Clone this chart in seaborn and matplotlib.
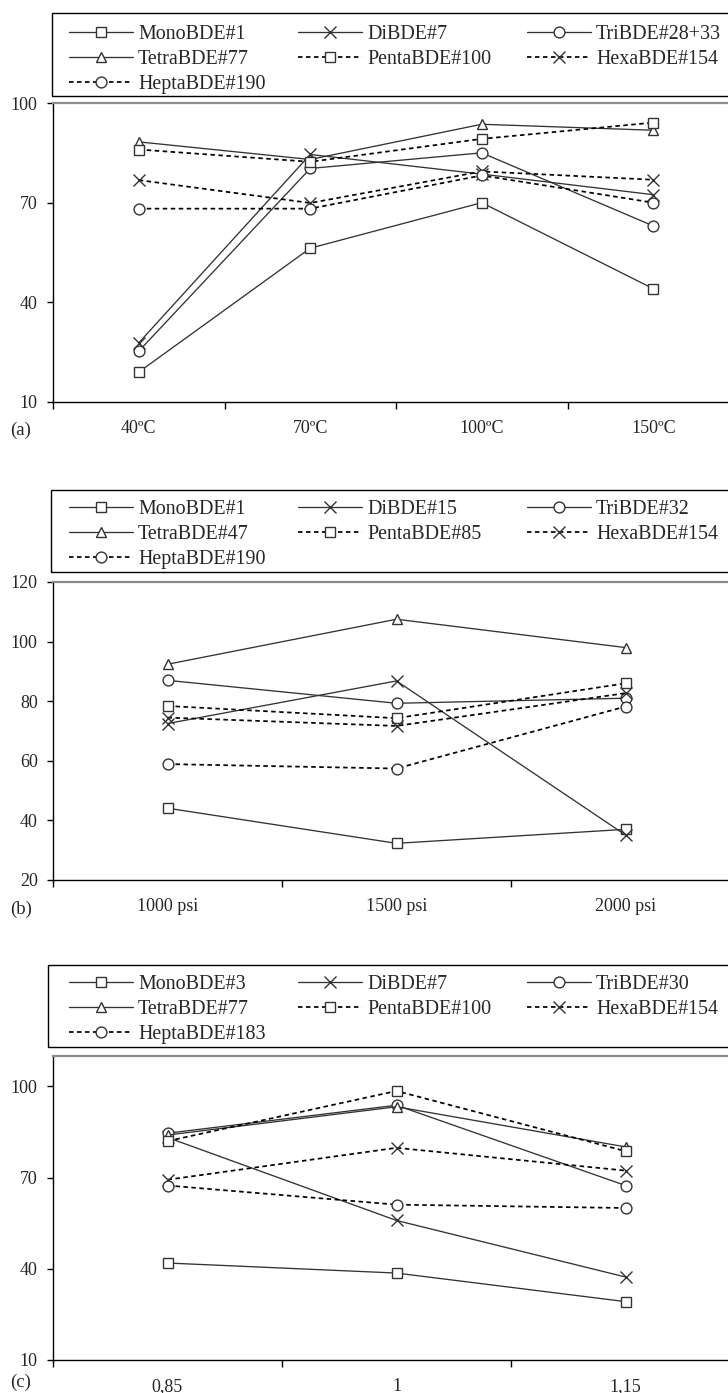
import matplotlib
matplotlib.use("Agg")
import matplotlib.pyplot as plt
from matplotlib.patches import Rectangle
import seaborn as sns

# --- data ---
names_a = ["MonoBDE#1", "DiBDE#7", "TriBDE#28+33", "TetraBDE#77",
           "PentaBDE#100", "HexaBDE#154", "HeptaBDE#190"]
cats_a = ["40ºC", "70ºC", "100ºC", "150ºC"]
mono_a = [19.0, 56.3, 70.0, 44.1]
di_a = [27.8, 84.5, 78.6, 72.4]
tri_a = [25.3, 80.3, 85.0, 63.0]
tetra_a = [88.3, 83.0, 93.6, 91.8]
penta_a = [86.0, 82.3, 89.2, 94.1]
hexa_a = [76.8, 69.9, 79.4, 76.9]
hepta_a = [68.2, 68.2, 78.2, 70.0]

names_b = ["MonoBDE#1", "DiBDE#15", "TriBDE#32", "TetraBDE#47",
           "PentaBDE#85", "HexaBDE#154", "HeptaBDE#190"]
cats_b = ["1000 psi", "1500 psi", "2000 psi"]
mono_b = [44.1, 32.3, 37.0]
di_b = [72.5, 86.8, 35.1]
tri_b = [87.0, 79.3, 81.0]
tetra_b = [92.4, 107.5, 98.0]
penta_b = [78.4, 74.3, 86.0]
hexa_b = [74.5, 71.7, 82.7]
hepta_b = [58.9, 57.4, 78.2]

names_c = ["MonoBDE#3", "DiBDE#7", "TriBDE#30", "TetraBDE#77",
           "PentaBDE#100", "HexaBDE#154", "HeptaBDE#183"]
cats_c = ["0,85", "1", "1,15"]
mono_c = [41.9, 38.6, 29.2]
di_c = [83.2, 55.9, 37.3]
tri_c = [84.6, 93.8, 67.4]
tetra_c = [84.0, 93.3, 80.1]
penta_c = [82.0, 98.5, 78.7]
hexa_c = [69.3, 79.8, 72.3]
hepta_c = [67.4, 61.1, 60.0]

# --- style ---
sns.set_theme(style="ticks")
plt.rcParams["font.family"] = ["Liberation Serif", "DejaVu Serif"]

W, H = 728, 1393
fig = plt.figure(figsize=(W / 100, H / 100), dpi=100)

markers = ["s", "x", "o", "^", "s", "x", "o"]
solid = [True, True, True, True, False, False, False]
GRAY = "#333333"


def fx(px):
    return px / W


def fy(py):
    return 1 - py / H


def draw_panel(top, bottom, cats, series, names, ylim, yticks,
               legend_box, row1, tag, tag_y):
    n = len(cats)
    width_px = 686 if n == 4 else 687
    ax = fig.add_axes([fx(53), fy(bottom), width_px / W, (bottom - top) / H])
    for vals, name, mk, sl in zip(series, names, markers, solid):
        if sl:
            kw = dict(color=GRAY, linewidth=0.95, linestyle="-")
        else:
            kw = dict(color="black", linewidth=1.25, linestyle=(0, (2.6, 2.0)))
        ms = 8.5 if mk == "x" else 7.8
        sns.lineplot(x=cats, y=vals, ax=ax, marker=mk, markersize=ms,
                     markerfacecolor="white", markeredgecolor=GRAY,
                     markeredgewidth=1.0, errorbar=None, legend=False,
                     sort=False, **kw)
    ax.set_xlim(-0.5, n - 0.5)
    ax.set_ylim(*ylim)
    ax.set_yticks(yticks)
    ax.set_xticks(range(n))
    ax.set_xticklabels(cats)
    ax.set_xticks([i - 0.5 for i in range(n + 1)], minor=True)
    ax.tick_params(axis="x", which="major", length=0, pad=13, labelsize=13)
    ax.tick_params(axis="x", which="minor", length=5, width=1.0,
                   direction="out", color="black")
    ax.tick_params(axis="y", length=4.5, width=1.0, direction="out",
                   pad=6.5, labelsize=13, color="black")
    ax.set_xlabel("")
    ax.set_ylabel("")
    ax.set_facecolor("white")
    for s in ["left", "bottom"]:
        ax.spines[s].set_color("black")
        ax.spines[s].set_linewidth(1.0)
    ax.spines["top"].set_color("#8c8c8c")
    ax.spines["top"].set_linewidth(1.6)
    ax.spines["right"].set_visible(False)

    # legend frame
    lx, ly0, ly1 = legend_box
    fig.add_artist(Rectangle((fx(lx), fy(ly1)), fx(760 - lx), (ly1 - ly0) / H,
                             transform=fig.transFigure, fill=False,
                             edgecolor="black", linewidth=1.0))
    lines = ax.lines
    cols = [[0, 3, 6], [1, 4], [2, 5]]
    col_x = [69, 298, 527]
    for idx, cx in zip(cols, col_x):
        fig.legend([lines[i] for i in idx], [names[i] for i in idx],
                   loc="upper left", bbox_to_anchor=(fx(cx), fy(row1 - 7)),
                   bbox_transform=fig.transFigure, frameon=False,
                   borderpad=0, borderaxespad=0, handlelength=3.2,
                   handletextpad=0.25, labelspacing=0.3, fontsize=14.4,
                   numpoints=1)
    fig.text(fx(10), fy(tag_y), tag, fontsize=13.5, va="center", ha="left")
    return ax


draw_panel(103, 402, cats_a,
           [mono_a, di_a, tri_a, tetra_a, penta_a, hexa_a, hepta_a],
           names_a, (10, 100), [10, 40, 70, 100], (52, 13, 96), 32, "(a)", 430)
draw_panel(582, 880, cats_b,
           [mono_b, di_b, tri_b, tetra_b, penta_b, hexa_b, hepta_b],
           names_b, (20, 120), [20, 40, 60, 80, 100, 120], (51, 490, 572), 507,
           "(b)", 909)
draw_panel(1056, 1360, cats_c,
           [mono_c, di_c, tri_c, tetra_c, penta_c, hexa_c, hepta_c],
           names_c, (10, 110), [10, 40, 70, 100], (48, 965, 1047), 982,
           "(c)", 1382)

fig.savefig("out.png", dpi=100, facecolor="white")
